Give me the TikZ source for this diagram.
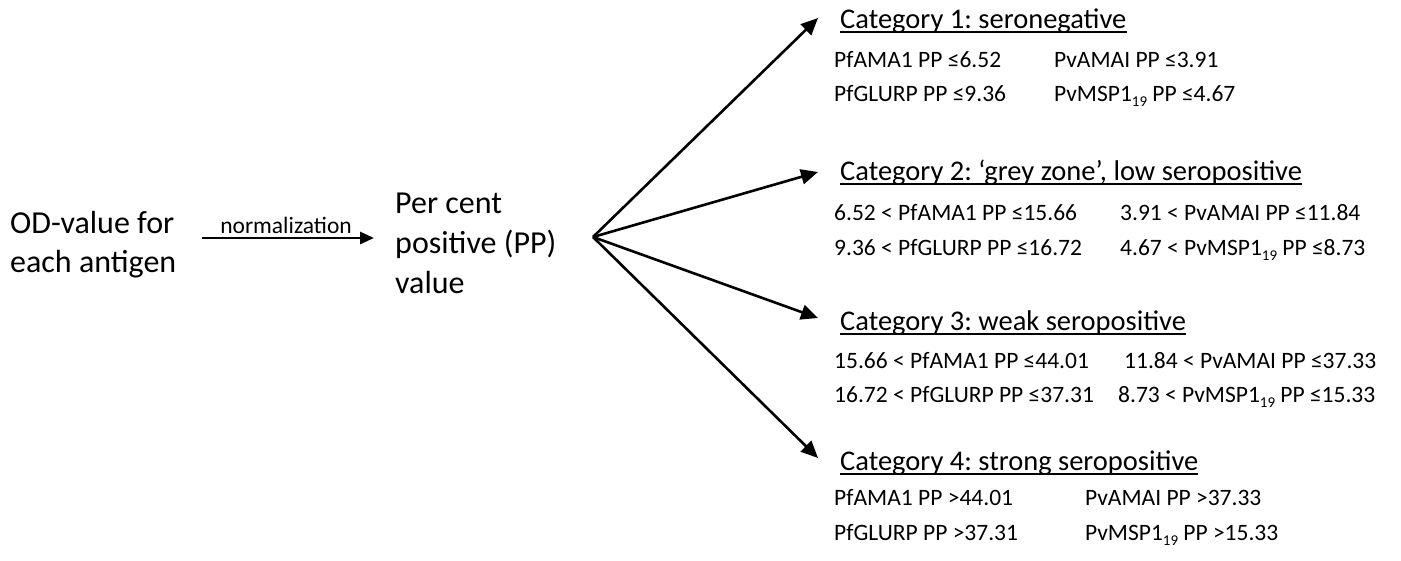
\documentclass[tikz,border=0pt]{standalone}
\usepackage{fontspec}
\setmainfont{Carlito}
\usetikzlibrary{arrows.meta,calc}
\newcommand{\subnum}[1]{\raisebox{-0.22em}{\fontsize{15}{15}\selectfont #1}}
\begin{document}
\frenchspacing
\begin{tikzpicture}[x=1pt,y=-1pt,
  bigtext/.style={font=\fontsize{32}{39}\selectfont, inner sep=0pt, align=left},
  head/.style={font=\fontsize{28.5}{34}\selectfont, inner sep=0pt, anchor=base west},
  small/.style={font=\fontsize{23.5}{28}\selectfont, inner sep=0pt, anchor=base west},
  arr/.style={line width=2.6pt, -{Triangle[length=17pt,width=15pt]}},
  narr/.style={line width=2.8pt, -{Triangle[length=14pt,width=12pt]}},
  uline/.style={line width=1.4pt},
]
\useasboundingbox (0,0) rectangle (1401,560);

% left texts
\node[bigtext, anchor=west] (od) at (10,245) {OD-value for\\each antigen};
\node[bigtext, anchor=west, font=\fontsize{32}{40}\selectfont] (pp) at (395,243) {Per cent\\positive (PP)\\value};
\coordinate (fan) at (593,237);

\draw[narr] ($(od.east |- fan)+(26,1)$) -- ($(pp.west |- fan)+(-21,1)$);
\node[small, anchor=base east] (norm) at (352,233) {normalization};

% categories
\node[head] (h1) at (840,28) {Category 1: seronegative};
\node[head] (h2) at (840,180) {Category 2: ‘grey zone’, low seropositive};
\node[head] (h3) at (840,330) {Category 3: weak seropositive};
\node[head] (h4) at (840,470) {Category 4: strong seropositive};

\foreach \h in {h1,h2,h3,h4}
  \draw[uline] ($(\h.base west)+(0,4)$) -- ($(\h.base east)+(0,4)$);

\draw[arr] (fan) -- ($(h1.base west)+(-22,-10)$);
\draw[arr] (fan) -- ($(h2.base west)+(-22,-8)$);
\draw[arr] (fan) -- ($(h3.base west)+(-22,-12)$);
\draw[arr] (fan) -- ($(h4.base west)+(-22,-12)$);

% category 1
\node[small] (c1a) at (834,67) {PfAMA1 PP ≤6.52};
\node[small] (c1b) at (1054,67) {PvAMAI PP ≤3.91};
\node[small] (c1c) at (834,101) {PfGLURP PP ≤9.36};
\node[small] (c1d) at (1054,101) {PvMSP1\subnum{19} PP ≤4.67};

% category 2
\node[small] (c2a) at (834,220) {6.52 < PfAMA1 PP ≤15.66};
\node[small] (c2b) at (1120,220) {3.91 < PvAMAI PP ≤11.84};
\node[small] (c2c) at (834,255) {9.36 < PfGLURP PP ≤16.72};
\node[small] (c2d) at (1120,255) {4.67 < PvMSP1\subnum{19} PP ≤8.73};

% category 3
\node[small] (c3a) at (834,368) {15.66 < PfAMA1 PP ≤44.01};
\node[small] (c3b) at (1124,368) {11.84 < PvAMAI PP ≤37.33};
\node[small] (c3c) at (834,402) {16.72 < PfGLURP PP ≤37.31};
\node[small] (c3d) at (1118,402) {8.73 < PvMSP1\subnum{19} PP ≤15.33};

% category 4
\node[small] (c4a) at (834,505) {PfAMA1 PP >44.01};
\node[small] (c4b) at (1085,505) {PvAMAI PP >37.33};
\node[small] (c4c) at (834,540) {PfGLURP PP >37.31};
\node[small] (c4d) at (1085,540) {PvMSP1\subnum{19} PP >15.33};
\end{tikzpicture}
\end{document}
